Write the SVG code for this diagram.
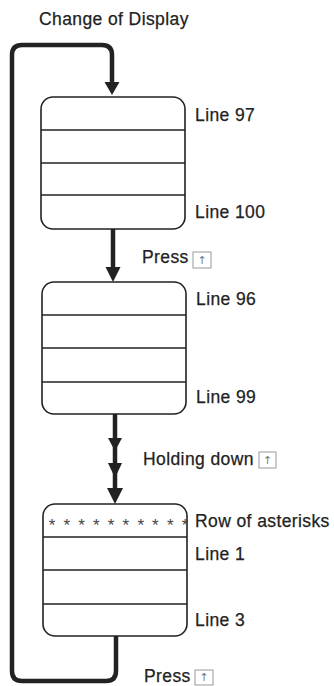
<svg xmlns="http://www.w3.org/2000/svg" width="334" height="686" viewBox="0 0 334 686">
<style>
  .lbl { font-family: "Liberation Sans", Arial, sans-serif; font-size: 17.5px; letter-spacing: 0.4px; fill: #222; stroke: #222; stroke-width: 0.25; }
  .box { fill: #fff; stroke: #222; stroke-width: 1.6; }
  .div { stroke: #222; stroke-width: 1.3; }
  .wire { fill: none; stroke: #222; stroke-width: 4.5; }
  .head { fill: #222; }
  .key { fill: #fff; stroke: #999; stroke-width: 1; }
  .keyglyph { font-family: "DejaVu Sans", sans-serif; font-size: 11px; fill: #777; text-anchor: middle; }
  .ast { font-family: "Liberation Sans", Arial, sans-serif; font-size: 17px; fill: #444; text-anchor: middle; }
</style>
<rect width="334" height="686" fill="#fff"/>

<text class="lbl" x="39" y="25">Change of Display</text>

<g id="connectors">
  <path class="wire" d="M116 636 V671 Q116 681 106 681 H22 Q12 681 12 671 V55 Q12 45 22 45 H102 Q112 45 112 55 V84"/>
  <polygon class="head" points="104.5,82 119.5,82 112,95"/>
  <line class="wire" x1="113" y1="229" x2="113" y2="269"/>
  <polygon class="head" points="105.5,267 120.5,267 113,282"/>
  <line class="wire" x1="115" y1="414" x2="115" y2="492"/>
  <polygon class="head" points="108,438 122,438 115,451"/>
  <polygon class="head" points="108,463 122,463 115,478"/>
  <polygon class="head" points="107,488 123,488 115,504"/>
</g>

<g id="display1">
  <rect class="box" x="41" y="97" width="144" height="132" rx="12"/>
  <line class="div" x1="41" y1="130" x2="185" y2="130"/>
  <line class="div" x1="41" y1="163" x2="185" y2="163"/>
  <line class="div" x1="41" y1="195" x2="185" y2="195"/>
  <text class="lbl" x="195" y="121">Line 97</text>
  <text class="lbl" x="195" y="218">Line 100</text>
</g>

<g id="press1">
  <text class="lbl" x="142" y="263">Press</text>
  <rect class="key" x="193" y="252" width="18" height="16"/>
  <text class="keyglyph" x="202" y="264">↑</text>
</g>

<g id="display2">
  <rect class="box" x="42" y="282" width="144" height="132" rx="12"/>
  <line class="div" x1="42" y1="315" x2="186" y2="315"/>
  <line class="div" x1="42" y1="348" x2="186" y2="348"/>
  <line class="div" x1="42" y1="382" x2="186" y2="382"/>
  <text class="lbl" x="196" y="305">Line 96</text>
  <text class="lbl" x="196" y="403">Line 99</text>
</g>

<g id="holding">
  <text class="lbl" x="143" y="465">Holding down</text>
  <rect class="key" x="259" y="452" width="17" height="16"/>
  <text class="keyglyph" x="267.5" y="464">↑</text>
</g>

<g id="display3">
  <rect class="box" x="43" y="504" width="144" height="132" rx="12"/>
  <text class="ast" x="52 66.8 81.6 96.3 111.1 125.9 140.7 155.4 170.2 185" y="531">**********</text>
  <line class="div" x1="43" y1="537" x2="187" y2="537"/>
  <line class="div" x1="43" y1="570" x2="187" y2="570"/>
  <line class="div" x1="43" y1="604" x2="187" y2="604"/>
  <text class="lbl" x="195" y="527">Row of asterisks</text>
  <text class="lbl" x="195" y="560">Line 1</text>
  <text class="lbl" x="195" y="626">Line 3</text>
</g>

<g id="press2">
  <text class="lbl" x="144" y="682">Press</text>
  <rect class="key" x="195" y="670" width="18" height="15"/>
  <text class="keyglyph" x="204" y="681">↑</text>
</g>
</svg>
